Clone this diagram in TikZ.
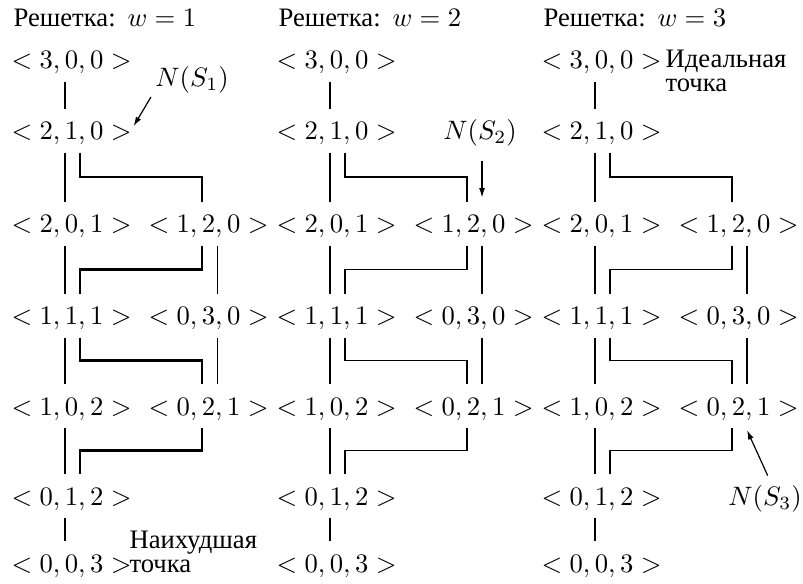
\documentclass[tikz,border=0pt]{standalone}
\usepackage{fontspec}
\newfontfamily\cyr{Liberation Serif}
\usetikzlibrary{arrows.meta,calc}
\tikzset{
  tup/.style={anchor=base, inner xsep=0pt, inner ysep=4.5pt, text height=7.1pt, text depth=0pt},
  arr/.style={-{Latex[length=3.5pt,width=2.2pt]}, line width=0.45pt},
  c1m/.style={line width=0.8pt}, c1r/.style={line width=0.4pt},
  c2m/.style={line width=0.5pt}, c2r/.style={line width=0.5pt},
  c3m/.style={line width=0.6pt}, c3r/.style={line width=0.6pt},
  word/.style={anchor=base west, align=left, inner sep=0pt, font=\cyr}
}
\newcommand\lnA{-2.4pt}
\newcommand\lnB{3.2pt}
\newcommand\brk[3]{\draw[#1] (#2) |- ($(#2)!.5!(#3)$) -| (#3);}
% #1 prefix, #2 x of left column centre, #3 main style, #4 right style, #5 weight
\newcommand\lattice[5]{%
  \node[anchor=base west, inner sep=0pt] (#1t) at ({#2-58.5},27) {{\cyr Решетка:} $w=#5$};
  \node[tup] (#1r0)  at (#2,69)  {$<3,0,0>$};
  \node[tup] (#1r1)  at (#2,140) {$<2,1,0>$};
  \node[tup] (#1r2a) at (#2,233) {$<2,0,1>$};
  \node[tup] (#1r2b) at ({#2+137},233) {$<1,2,0>$};
  \node[tup] (#1r3a) at (#2,325) {$<1,1,1>$};
  \node[tup] (#1r3b) at ({#2+137},325) {$<0,3,0>$};
  \node[tup] (#1r4a) at (#2,415) {$<1,0,2>$};
  \node[tup] (#1r4b) at ({#2+137},415) {$<0,2,1>$};
  \node[tup] (#1r5)  at (#2,505) {$<0,1,2>$};
  \node[tup] (#1r6)  at (#2,572) {$<0,0,3>$};
  \draw[#3] ([xshift=\lnA]#1r0.south)  -- ([xshift=\lnA]#1r1.north);
  \draw[#3] ([xshift=\lnA]#1r1.south)  -- ([xshift=\lnA]#1r2a.north);
  \draw[#3] ([xshift=\lnA]#1r2a.south) -- ([xshift=\lnA]#1r3a.north);
  \draw[#3] ([xshift=\lnA]#1r3a.south) -- ([xshift=\lnA]#1r4a.north);
  \draw[#3] ([xshift=\lnA]#1r4a.south) -- ([xshift=\lnA]#1r5.north);
  \draw[#3] ([xshift=\lnA]#1r5.south)  -- ([xshift=\lnA]#1r6.north);
  \draw[#4] ([xshift=\lnB]#1r2b.south) -- ([xshift=\lnB]#1r3b.north);
  \draw[#4] ([xshift=\lnB]#1r3b.south) -- ([xshift=\lnB]#1r4b.north);
  \coordinate (#1s1) at ([xshift=\lnB]#1r1.south);
  \coordinate (#1e1) at ([xshift=\lnA]#1r2b.north);
  \coordinate (#1s2) at ([xshift=\lnA]#1r2b.south);
  \coordinate (#1e2) at ([xshift=\lnB]#1r3a.north);
  \coordinate (#1s3) at ([xshift=\lnB]#1r3a.south);
  \coordinate (#1e3) at ([xshift=\lnA]#1r4b.north);
  \coordinate (#1s4) at ([xshift=\lnA]#1r4b.south);
  \coordinate (#1e4) at ([xshift=\lnB]#1r5.north);
  \brk{#3}{#1s1}{#1e1}
  \brk{#3}{#1s2}{#1e2}
  \brk{#3}{#1s3}{#1e3}
  \brk{#3}{#1s4}{#1e4}
}
\begin{document}
\begin{tikzpicture}[x=0.375pt,y=-0.375pt]
\useasboundingbox (0,0) rectangle (803,584);
\lattice{A}{71.5}{c1m}{c1r}{1}
\lattice{B}{336.5}{c2m}{c2r}{2}
\lattice{C}{601.5}{c3m}{c3r}{3}
% N(S) labels
\node[anchor=base] (ns1) at (192,87) {$N(S_1)$};
\draw[arr] ([xshift=1.9pt,yshift=-3.75pt]ns1.base west) -- ([xshift=0.6pt,yshift=5.2pt]Ar1.base east);
\node[anchor=base] (ns2) at (480,140) {$N(S_2)$};
\coordinate (s2tip) at ([xshift=\lnB,yshift=1.5pt]Br2b.north);
\draw[arr] ([yshift=-2pt]ns2.south -| s2tip) -- (s2tip);
\node[anchor=base] (ns3) at (765,505) {$N(S_3)$};
\draw[arr] ([xshift=1pt]ns3.north) -- ([xshift=\lnB,yshift=-1pt]Cr4b.south);
% words
\node[word] (ideal) at (665,92) {Идеальная\\[-2.8pt]точка};
\node[word] (worst) at (129,572) {Наихудшая\\[-3.3pt]точка};
\end{tikzpicture}
\end{document}
